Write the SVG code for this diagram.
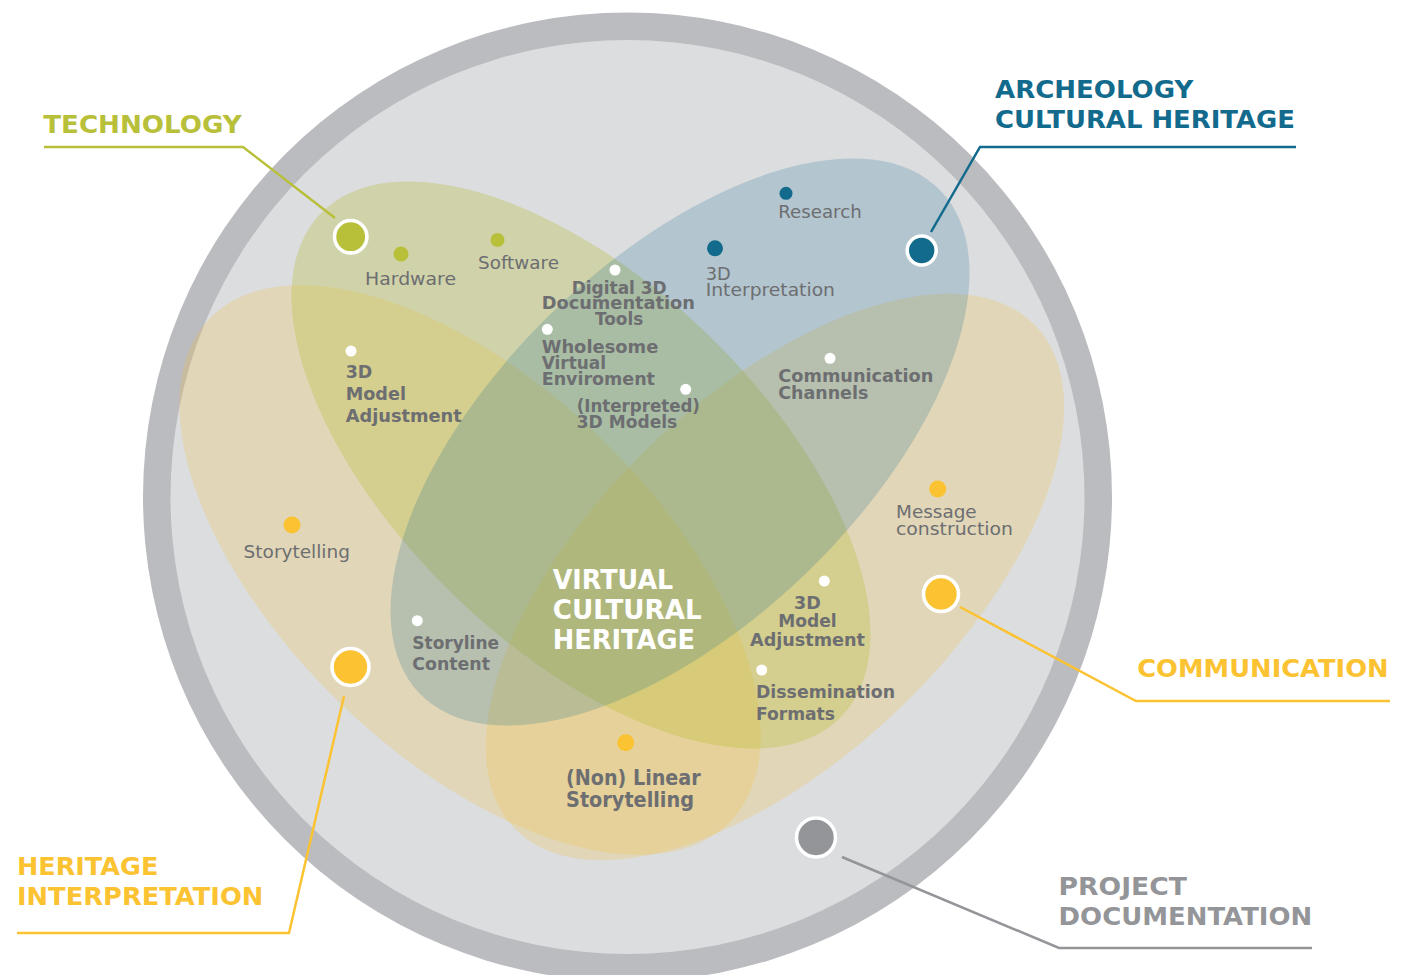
<svg xmlns="http://www.w3.org/2000/svg" width="1414" height="975" viewBox="0 0 1414 975">
<style>
.ring{fill:#bbbcc0}
.inner{fill:#dcdddf}
.tan{fill:#f5c02e;fill-opacity:.22}
.grn{fill:#b5bd33;fill-opacity:.3}
.blu{fill:#0d6b8e;fill-opacity:.2}
text{font-family:"DejaVu Sans","Open Sans",sans-serif}
.lbl{font-size:17.5px;fill:#6d6e71}
.lblb{font-size:17px;font-weight:bold;fill:#6d6e71}
.big{font-size:20.5px;font-weight:bold;fill:#6d6e71}
.ttl{font-size:25px;font-weight:bold}
.vch{font-size:26.5px;font-weight:bold;fill:#ffffff}
.wd{fill:#ffffff}
.conn{fill:none;stroke-width:2.5;stroke-linejoin:miter}
.mk{stroke:#ffffff;stroke-width:3.6}
.cg{fill:#b8c03a}
.cb{fill:#126b8d}
.cy{fill:#fbc232}
.cp{fill:#939598}
</style>

<g id="background">
  <circle class="ring" cx="627.5" cy="497" r="484.5"/>
  <circle class="inner" cx="627.5" cy="497" r="457"/>
</g>

<g id="sets">
  <ellipse id="set-heritage" class="tan" cx="470" cy="570" rx="362" ry="186" transform="rotate(44 470 570)"/>
  <ellipse id="set-communication" class="tan" cx="775" cy="577" rx="362" ry="181" transform="rotate(-44 775 577)"/>
  <ellipse id="set-technology" class="grn" cx="581" cy="465" rx="362" ry="182" transform="rotate(44 581 465)"/>
  <ellipse id="set-archeology" class="blu" cx="680" cy="442" rx="362" ry="182" transform="rotate(-44 680 442)"/>
</g>

<g id="connectors">
  <polyline class="conn" stroke="#b8c03a" points="44,147 243,147 335,218"/>
  <polyline class="conn" stroke="#126b8d" points="1296,147 980,147 931,232"/>
  <polyline class="conn" stroke="#fbc232" points="960,607 1136,701 1390,701"/>
  <polyline class="conn" stroke="#fbc232" points="344,696 289,933 17,933"/>
  <polyline class="conn" stroke="#939598" points="842,857 1059,948 1312,948"/>
</g>

<g id="technology">
  <circle class="cg mk" cx="350.7" cy="236.7" r="16.2"/>
  <text class="ttl" fill="#b8c03a" x="43.3" y="133.3" textLength="198.4" lengthAdjust="spacingAndGlyphs" font-size="27">TECHNOLOGY</text>
</g>

<g id="archeology">
  <circle class="cb mk" cx="921.7" cy="250.5" r="14.5" stroke-width="3"/>
  <text class="ttl" fill="#126b8d" x="995" y="98.3" textLength="198.3" lengthAdjust="spacingAndGlyphs">ARCHEOLOGY</text>
  <text class="ttl" fill="#126b8d" x="995" y="128.3" textLength="300" lengthAdjust="spacingAndGlyphs">CULTURAL HERITAGE</text>
</g>

<g id="communication">
  <circle class="cy mk" cx="941" cy="594" r="17.5"/>
  <text class="ttl" fill="#fbc232" x="1137.2" y="676.7" textLength="251.4" lengthAdjust="spacingAndGlyphs">COMMUNICATION</text>
</g>

<g id="heritage-interpretation">
  <circle class="cy mk" cx="350.5" cy="667" r="18.5" stroke-width="4"/>
  <text class="ttl" fill="#fbc232" x="17" y="875" textLength="141.3" lengthAdjust="spacingAndGlyphs">HERITAGE</text>
  <text class="ttl" fill="#fbc232" x="17" y="905" textLength="246.3" lengthAdjust="spacingAndGlyphs">INTERPRETATION</text>
</g>

<g id="project-documentation">
  <circle class="cp mk" cx="816" cy="837.5" r="19.5" stroke-width="4"/>
  <text class="ttl" fill="#939598" x="1058.6" y="895" textLength="128.4" lengthAdjust="spacingAndGlyphs" font-size="23.5">PROJECT</text>
  <text class="ttl" fill="#939598" x="1058.6" y="925" textLength="253.6" lengthAdjust="spacingAndGlyphs" font-size="23.5">DOCUMENTATION</text>
</g>

<g id="virtual-cultural-heritage">
  <text class="vch" x="552.7" y="589.3" textLength="120.6" lengthAdjust="spacingAndGlyphs">VIRTUAL</text>
  <text class="vch" x="552.7" y="619" textLength="149" lengthAdjust="spacingAndGlyphs">CULTURAL</text>
  <text class="vch" x="552.7" y="649" textLength="142.3" lengthAdjust="spacingAndGlyphs">HERITAGE</text>
</g>

<g id="hardware">
  <circle class="cg" cx="401" cy="254" r="7.5"/>
  <text class="lbl" x="365" y="285" textLength="91" lengthAdjust="spacingAndGlyphs">Hardware</text>
</g>
<g id="software">
  <circle class="cg" cx="497.5" cy="240" r="7"/>
  <text class="lbl" x="478" y="269" textLength="81" lengthAdjust="spacingAndGlyphs">Software</text>
</g>
<g id="research">
  <circle class="cb" cx="786" cy="193.3" r="6.5"/>
  <text class="lbl" x="778.3" y="218.3" textLength="83.4" lengthAdjust="spacingAndGlyphs">Research</text>
</g>
<g id="interpretation-3d">
  <circle class="cb" cx="715" cy="248.3" r="8"/>
  <text class="lbl" x="705.7" y="280" textLength="25" lengthAdjust="spacingAndGlyphs">3D</text>
  <text class="lbl" x="705.7" y="296" textLength="129.3" lengthAdjust="spacingAndGlyphs">Interpretation</text>
</g>
<g id="message-construction">
  <circle class="cy" cx="937.7" cy="489" r="8.5"/>
  <text class="lbl" x="896" y="517.7" textLength="80.7" lengthAdjust="spacingAndGlyphs">Message</text>
  <text class="lbl" x="896" y="535" textLength="117" lengthAdjust="spacingAndGlyphs">construction</text>
</g>
<g id="storytelling">
  <circle class="cy" cx="292" cy="525" r="8.5"/>
  <text class="lbl" x="243.6" y="558" textLength="106.4" lengthAdjust="spacingAndGlyphs">Storytelling</text>
</g>
<g id="non-linear-storytelling">
  <circle class="cy" cx="625.7" cy="742.7" r="8.5"/>
  <text class="big" x="566" y="785" textLength="134.7" lengthAdjust="spacingAndGlyphs">(Non) Linear</text>
  <text class="big" x="566" y="806.5" textLength="128" lengthAdjust="spacingAndGlyphs">Storytelling</text>
</g>

<g id="digital-3d-documentation-tools">
  <circle class="wd" cx="615" cy="270" r="5.5"/>
  <text class="lblb" x="571.7" y="294" textLength="95" lengthAdjust="spacingAndGlyphs">Digital 3D</text>
  <text class="lblb" x="541.7" y="309.3" textLength="153.3" lengthAdjust="spacingAndGlyphs">Documentation</text>
  <text class="lblb" x="595" y="325" textLength="48.3" lengthAdjust="spacingAndGlyphs">Tools</text>
</g>
<g id="wholesome-virtual-enviroment">
  <circle class="wd" cx="547.3" cy="329.3" r="5.5"/>
  <text class="lblb" x="541.7" y="352.7" textLength="116.6" lengthAdjust="spacingAndGlyphs">Wholesome</text>
  <text class="lblb" x="541.7" y="369" textLength="64.3" lengthAdjust="spacingAndGlyphs">Virtual</text>
  <text class="lblb" x="541.7" y="385" textLength="113.3" lengthAdjust="spacingAndGlyphs">Enviroment</text>
</g>
<g id="interpreted-3d-models">
  <circle class="wd" cx="685.7" cy="389.3" r="5.5"/>
  <text class="lblb" x="576.7" y="411.7" textLength="123.3" lengthAdjust="spacingAndGlyphs">(Interpreted)</text>
  <text class="lblb" x="576.7" y="428.3" textLength="100.6" lengthAdjust="spacingAndGlyphs">3D Models</text>
</g>
<g id="communication-channels">
  <circle class="wd" cx="830" cy="358.3" r="5.5"/>
  <text class="lblb" x="778.3" y="381.7" textLength="155" lengthAdjust="spacingAndGlyphs">Communication</text>
  <text class="lblb" x="778.3" y="399.3" textLength="90" lengthAdjust="spacingAndGlyphs">Channels</text>
</g>
<g id="model-adjustment-left">
  <circle class="wd" cx="351" cy="351" r="5.5"/>
  <text class="lblb" x="345.7" y="378.3" textLength="26.6" lengthAdjust="spacingAndGlyphs">3D</text>
  <text class="lblb" x="345.7" y="400" textLength="60.3" lengthAdjust="spacingAndGlyphs">Model</text>
  <text class="lblb" x="345.7" y="421.7" textLength="116" lengthAdjust="spacingAndGlyphs">Adjustment</text>
</g>
<g id="storyline-content">
  <circle class="wd" cx="417.3" cy="620.7" r="5.5"/>
  <text class="lblb" x="412.3" y="649" textLength="86.7" lengthAdjust="spacingAndGlyphs">Storyline</text>
  <text class="lblb" x="412.3" y="670" textLength="77.7" lengthAdjust="spacingAndGlyphs">Content</text>
</g>
<g id="model-adjustment-right">
  <circle class="wd" cx="824.3" cy="581" r="5.5"/>
  <text class="lblb" x="794" y="609" textLength="26.7" lengthAdjust="spacingAndGlyphs">3D</text>
  <text class="lblb" x="778.3" y="627" textLength="58.4" lengthAdjust="spacingAndGlyphs">Model</text>
  <text class="lblb" x="750" y="646" textLength="115" lengthAdjust="spacingAndGlyphs">Adjustment</text>
</g>
<g id="dissemination-formats">
  <circle class="wd" cx="761.7" cy="670" r="5.5"/>
  <text class="lblb" x="756" y="698.3" textLength="139" lengthAdjust="spacingAndGlyphs">Dissemination</text>
  <text class="lblb" x="756" y="720" textLength="79" lengthAdjust="spacingAndGlyphs">Formats</text>
</g>
</svg>
